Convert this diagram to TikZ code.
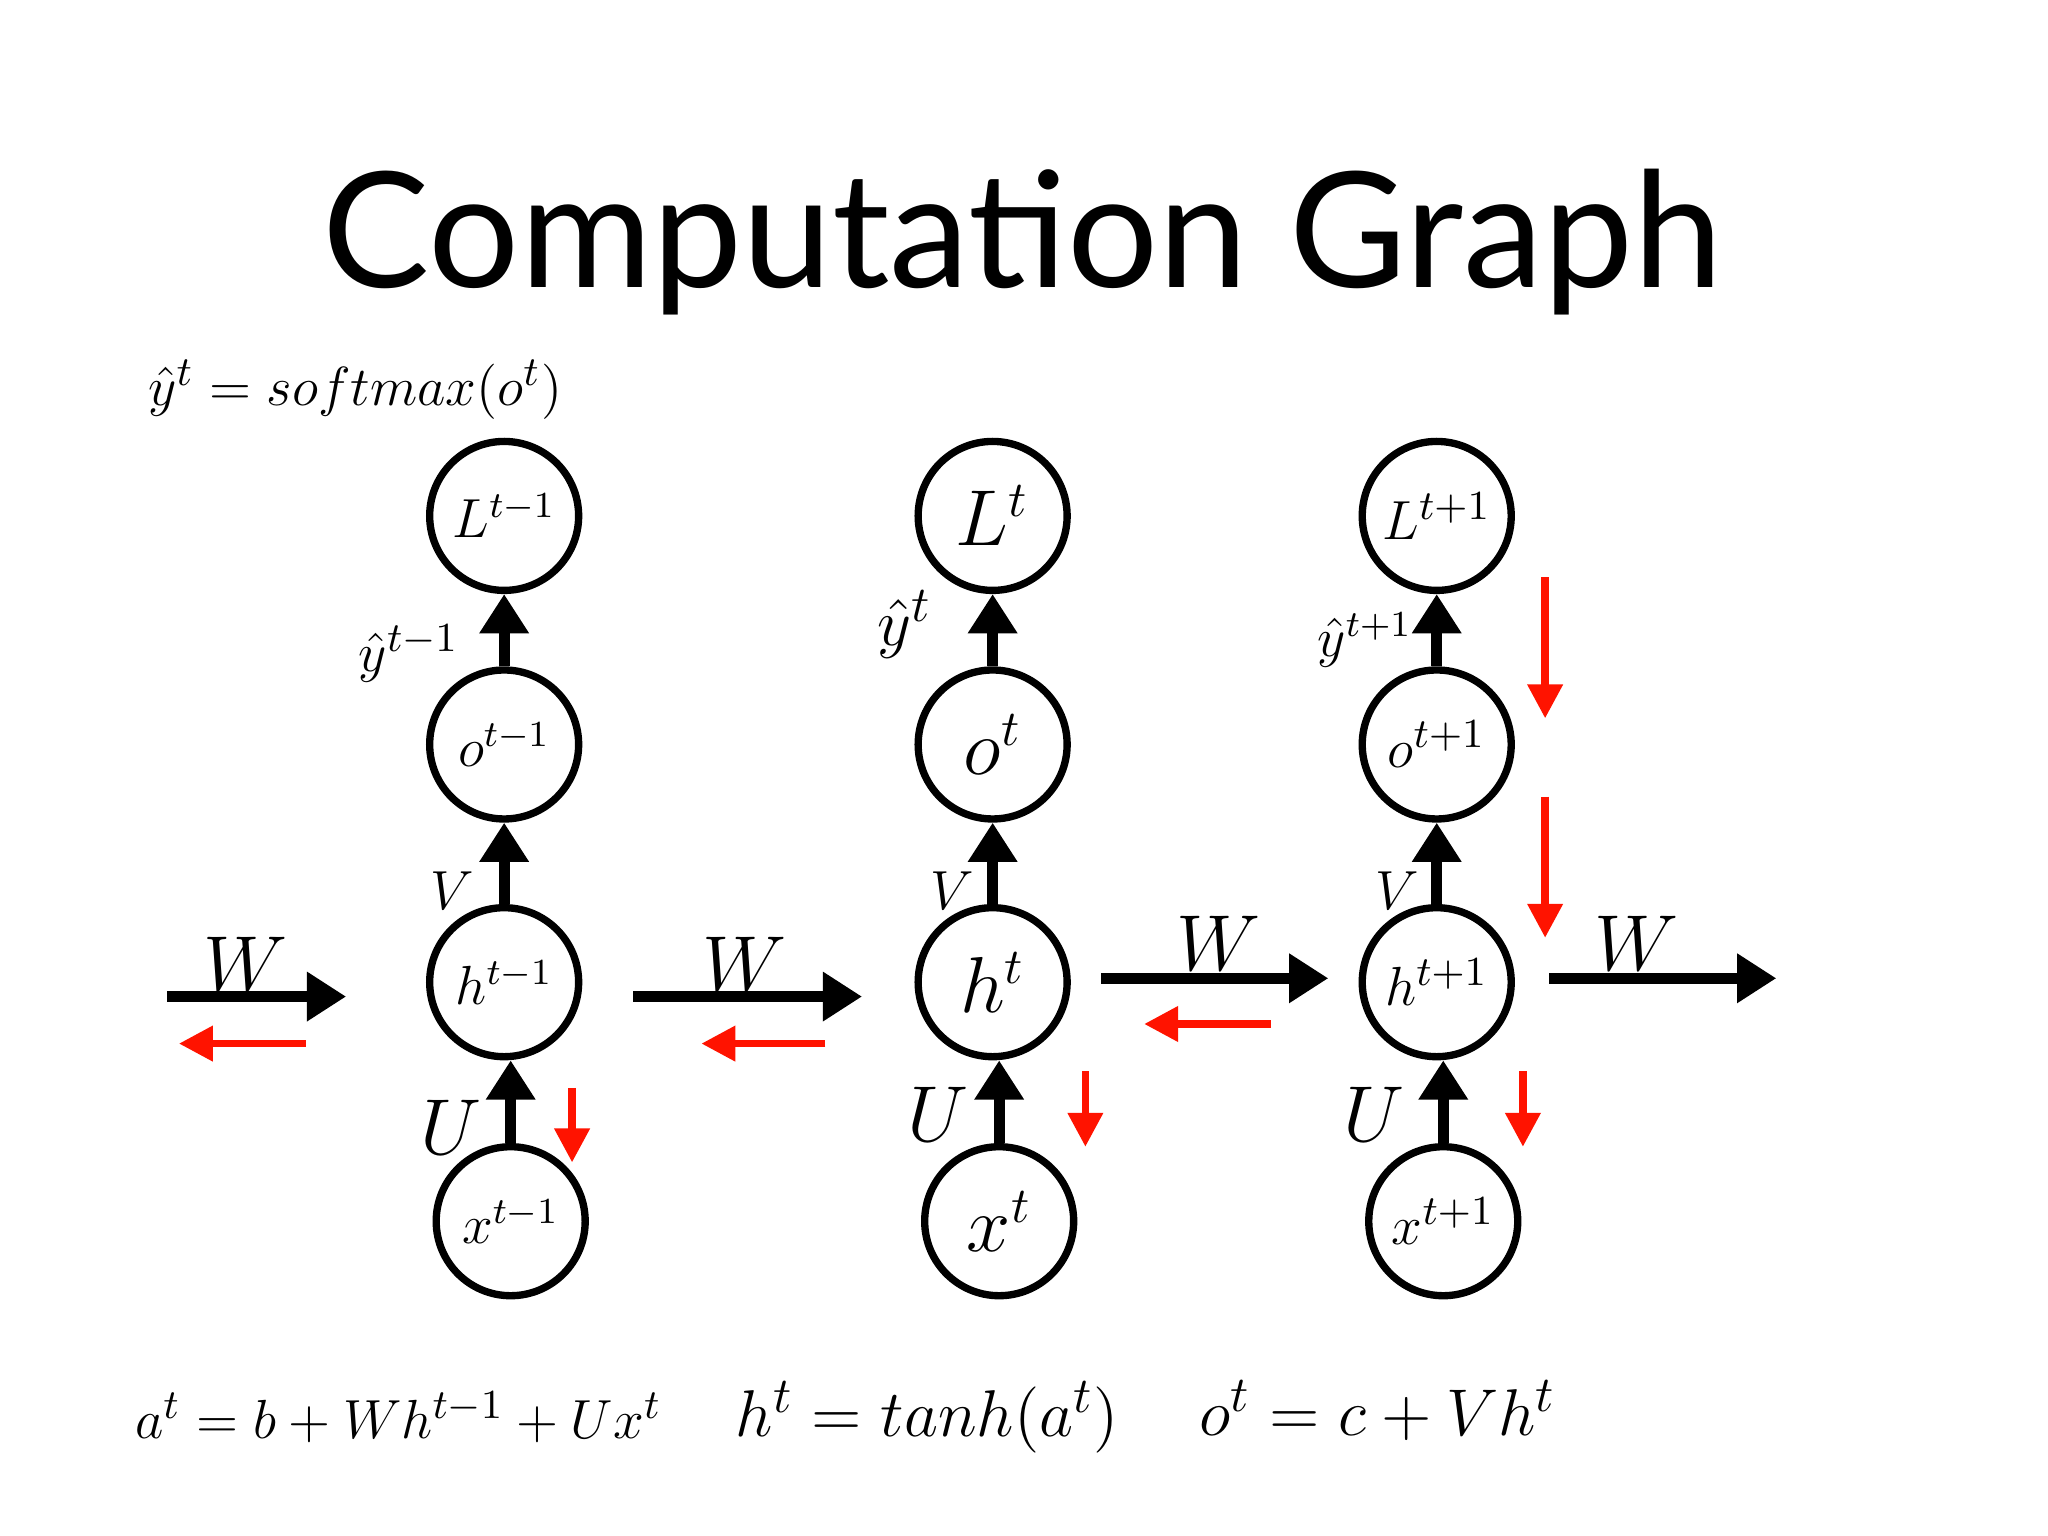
\documentclass[tikz,border=0pt]{standalone}
\usepackage{fontspec}
\newfontfamily\titlefont{Lato}
\usetikzlibrary{arrows.meta}
\begin{document}
\begin{tikzpicture}[x=0.01cm,y=-0.01cm,
 nd/.style={circle,draw,line width=1.6pt,minimum size=1.14cm,inner sep=0pt},
 blk/.style={line width=2.4pt,-{Triangle[width=0.36cm,length=0.3cm]}},
 red/.style={draw=red!85!orange,line width=1.6pt,-{Triangle[width=0.26cm,length=0.26cm]}},
 wl/.style={font=\fontsize{18}{18}\selectfont},
 vl/.style={font=\fontsize{13}{13}\selectfont}]
\useasboundingbox (0,0) rectangle (1568,1176);
\node[font=\titlefont\fontsize{35}{35}\selectfont] (title) at (783,185) {Computation Graph};
\node[font=\fontsize{12.5}{12.5}\selectfont] (sm) at (272,298) {$\hat y^t=softmax(o^t)$};
\foreach \c/\x/\s/\f in {a/386/{t-1}/12,b/760/t/16,c/1100/{t+1}/13}{
 \node[nd,font=\fontsize{\f}{\f}\selectfont] (L\c) at (\x,395) {$L^{\s}$};
 \node[nd,font=\fontsize{\f}{\f}\selectfont] (o\c) at (\x,570) {$o^{\s}$};
 \node[nd,font=\fontsize{\f}{\f}\selectfont] (h\c) at (\x,752) {$h^{\s}$};
 \node[nd,font=\fontsize{\f}{\f}\selectfont] (x\c) at (\x+5,935) {$x^{\s}$};
 \draw[blk] (o\c) -- (L\c);
 \draw[blk] (h\c) -- (o\c);
 \draw[blk] (x\c.north) -- (x\c.north |- h\c.south);
}
\node[vl] (Va) at (346,682) {$V$};
\node[vl] (Vb) at (729,682) {$V$};
\node[vl] (Vc) at (1070,682) {$V$};
\node[wl] (Ua) at (345,863) {$U$};
\node[wl] (Ub) at (718,853) {$U$};
\node[wl] (Uc) at (1052,853) {$U$};
\node[font=\fontsize{13}{13}\selectfont] (ya) at (313,500) {$\hat y^{t-1}$};
\node[font=\fontsize{15}{15}\selectfont] (yb) at (693,478) {$\hat y^{t}$};
\node[font=\fontsize{11.5}{11.5}\selectfont] (yc) at (1045,490) {$\hat y^{t+1}$};
\coordinate (w1s) at (128,763); \coordinate (w1e) at (265,763);
\coordinate (w2s) at (485,763); \coordinate (w2e) at (660,763);
\coordinate (w3s) at (843,749); \coordinate (w3e) at (1017,749);
\coordinate (w4s) at (1186,749); \coordinate (w4e) at (1360,749);
\foreach \i in {1,2,3,4} \draw[blk] (w\i s) -- (w\i e);
\node[wl] (W1) at (188,738) {$W$};
\node[wl] (W2) at (570,738) {$W$};
\node[wl] (W3) at (933,722) {$W$};
\node[wl] (W4) at (1253,722) {$W$};
\foreach \a/\b in {{234,799}/{137,799},{632,799}/{537,799},{973,784}/{876,784},
 {438,833}/{438,890},{831,820}/{831,878},{1166,820}/{1166,878},{1183,442}/{1183,550},{1183,610}/{1183,718}}
 \draw[red] (\a) -- (\b);
\node[font=\fontsize{13}{13}\selectfont] (ea) at (305,1085) {$a^t=b+Wh^{t-1}+Ux^t$};
\node[font=\fontsize{15}{15}\selectfont] (eb) at (710,1085) {$h^t=tanh(a^t)$};
\node[font=\fontsize{15}{15}\selectfont] (ec) at (1055,1080) {$o^t=c+Vh^t$};
\end{tikzpicture}
\end{document}
